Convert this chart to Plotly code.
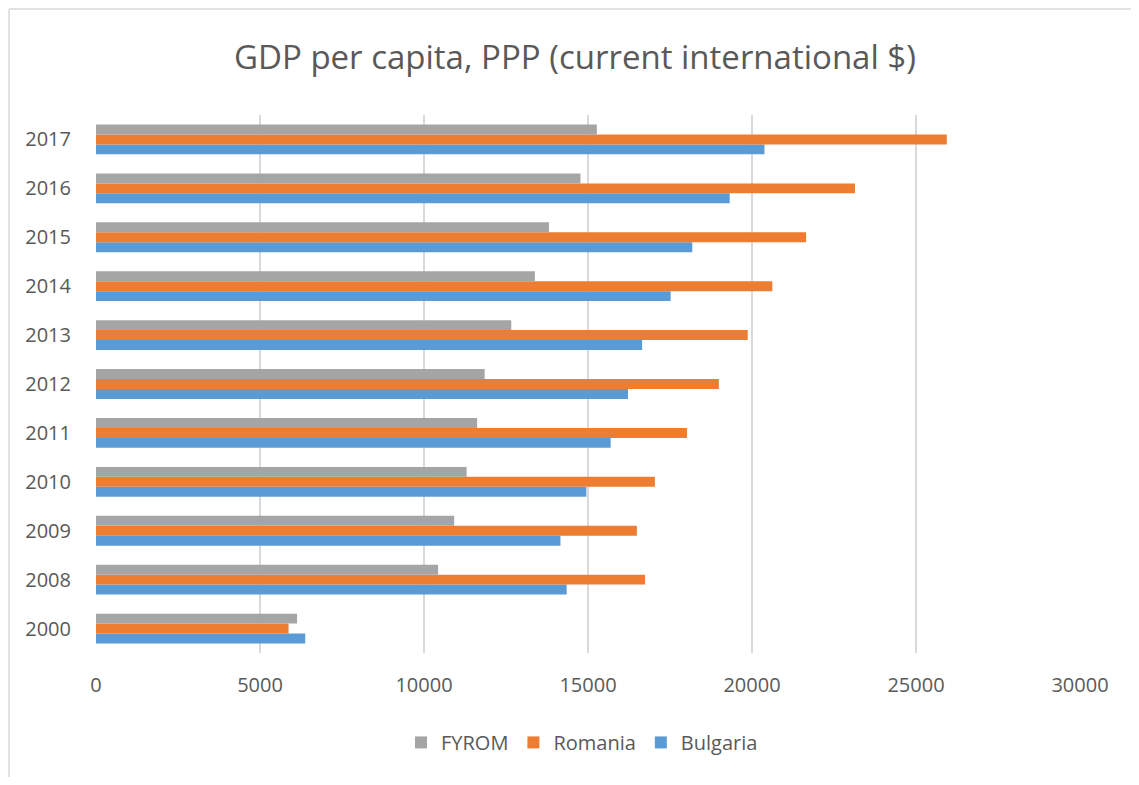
import plotly.graph_objects as go

years = ["2000", "2008", "2009", "2010", "2011", "2012", "2013", "2014", "2015", "2016", "2017"]
bulgaria = [6380, 14350, 14160, 14950, 15690, 16220, 16650, 17520, 18180, 19320, 20380]
romania = [5870, 16740, 16490, 17040, 18020, 18990, 19870, 20620, 21650, 23140, 25940]
fyrom = [6130, 10430, 10920, 11300, 11620, 11850, 12660, 13380, 13810, 14770, 15270]
x_ticks = [0, 5000, 10000, 15000, 20000, 25000, 30000]

FONT = "Open Sans"
TXT = "#595959"
OFF = 8  # browser body margin

fig = go.Figure()
fig.add_trace(go.Bar(y=years, x=bulgaria, name="Bulgaria", orientation="h",
                     marker=dict(color="#5B9BD5", line=dict(width=0))))
fig.add_trace(go.Bar(y=years, x=romania, name="Romania", orientation="h",
                     marker=dict(color="#ED7D31", line=dict(width=0))))
fig.add_trace(go.Bar(y=years, x=fyrom, name="FYROM", orientation="h",
                     marker=dict(color="#A5A5A5", line=dict(width=0))))

W, H = 1139 - 2 * OFF, 785 - 2 * OFF
L, R, T, B = 96 - OFF, 1080 - OFF, 115 - OFF, 653.5 - OFF
pw, ph = R - L, B - T

def px(x):
    # page pixel -> paper coordinate
    return (x - OFF - L) / pw

def py(y):
    return (B - (y - OFF)) / ph

border = dict(color="#D9D9D9", width=1.5)
fig.add_shape(type="line", xref="paper", yref="paper",
              x0=px(OFF + 1), x1=px(OFF + 1), y0=py(OFF + 1), y1=py(800), line=border, layer="below")
fig.add_shape(type="line", xref="paper", yref="paper",
              x0=px(OFF + 1), x1=px(1200), y0=py(OFF + 1), y1=py(OFF + 1), line=border, layer="below")

fig.update_layout(
    width=W, height=H,
    margin=dict(l=L, r=W - R, t=T, b=H - B, pad=0),
    paper_bgcolor="white", plot_bgcolor="white",
    barmode="group", bargap=0.39, bargroupgap=0,
    title=dict(text="GDP per capita, PPP (current international $)",
               xref="container", x=(575 - OFF) / W, xanchor="center",
               yref="container", y=1 - (57 - OFF) / H, yanchor="middle",
               font=dict(family=FONT, size=33, color=TXT)),
    xaxis=dict(range=[0, 30000], tickvals=x_ticks, ticktext=[str(v) for v in x_ticks],
               showgrid=True, gridcolor="#D9D9D9", gridwidth=1.6, zeroline=False,
               showline=False, ticks="", ticklen=0, ticklabelstandoff=18,
               tickfont=dict(family=FONT, size=20, color=TXT)),
    yaxis=dict(categoryorder="array", categoryarray=years, showgrid=False,
               showline=False, zeroline=False, ticks="", ticklen=0,
               ticklabelstandoff=24,
               tickfont=dict(family=FONT, size=20, color=TXT)),
    legend=dict(orientation="h", x=px(582), xanchor="center", y=py(743), yanchor="middle",
                traceorder="reversed", font=dict(family=FONT, size=20, color=TXT),
                itemwidth=30, tracegroupgap=0),
    font=dict(family=FONT, color=TXT),
)

fig.write_html("out.html")
